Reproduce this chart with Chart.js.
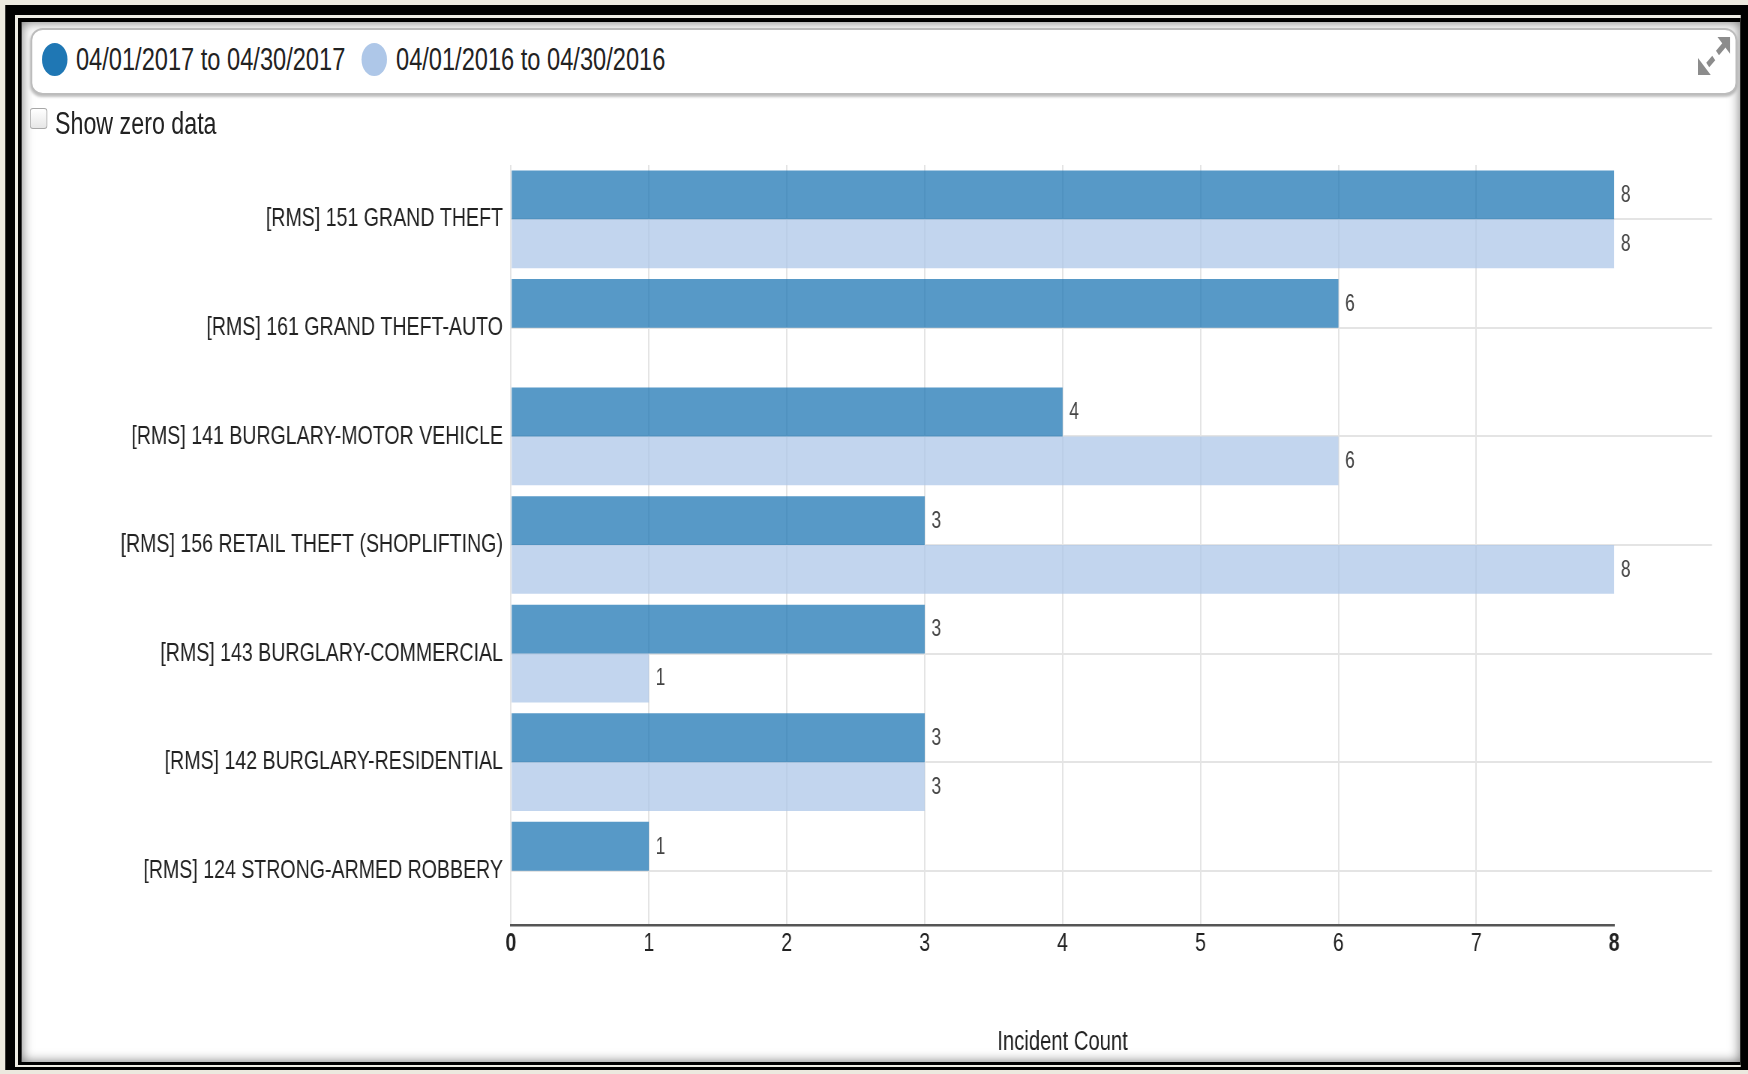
<!DOCTYPE html>
<html>
<head>
<meta charset="utf-8">
<script src="https://cdn.jsdelivr.net/npm/chart.js@4.4.1/dist/chart.umd.min.js"></script>
<style>
    html, body { margin: 0; padding: 0; width: 1748px; height: 1074px; overflow: hidden; background: #ece9df; }
    body { font-family: "Liberation Sans", Arial, sans-serif; color: #222; }
    /* the source picture is horizontally squeezed, so the page is laid out wide and scaled in x */
    #root { position: absolute; left: 0; top: 0; width: 2331px; height: 1074px; transform: scaleX(0.75); transform-origin: 0 0; }
    .abs { position: absolute; }
    #frame { left: 6.7px; top: 5px; width: 2324px; height: 1065px; background: #000; }
    #frameLine { left: 20px; top: 15px; width: 2301px; height: 1052px; background: #eeece4; }
    #frameIn { left: 24px; top: 18px; width: 2297px; height: 1047px; background: #000; }
    #panel { left: 29.3px; top: 22px; width: 2290.7px; height: 1040px; background: #fff; box-shadow: inset 0 0 14px rgba(0, 0, 0, 0.55); }
    #legendBox { left: 41.3px; top: 28px; width: 2271px; height: 63px; border: 2px solid #bcbcbc; border-radius: 16px / 12px; background: #fff; box-shadow: 0 2px 3px rgba(0, 0, 0, 0.25); }
    .dot { width: 34px; height: 33px; border-radius: 50%; top: 43px; }
    .legText { font-size: 31.5px; line-height: 31.5px; top: 44px; white-space: nowrap; color: #222; }
    #check { left: 40px; top: 108px; width: 21px; height: 19px; border: 1.5px solid #a8a8a8; border-radius: 4px / 3px; background: linear-gradient(#ffffff, #e6e6e6); }
    #zeroText { left: 73.3px; top: 108px; font-size: 31px; line-height: 31px; white-space: nowrap; color: #222; }
    #expand { left: 2264px; top: 37px; width: 43px; height: 38px; }
    #chart { position: absolute; left: 0; top: 0; }
</style>
</head>
<body>
<div id="root">
    <div id="frame" class="abs"></div>
    <div id="frameLine" class="abs"></div>
    <div id="frameIn" class="abs"></div>
    <div id="panel" class="abs"></div>
    <div id="legendBox" class="abs"></div>
    <div class="abs dot" style="left:55.7px;background:#1f77b4"></div>
    <div class="abs legText" style="left:101.3px">04/01/2017 to 04/30/2017</div>
    <div class="abs dot" style="left:482px;background:#aec7e8"></div>
    <div class="abs legText" style="left:528px">04/01/2016 to 04/30/2016</div>
    <svg id="expand" class="abs" viewBox="0 0 43 38" preserveAspectRatio="none">
        <g fill="#8c8c8c" stroke="#8c8c8c" stroke-width="6" stroke-linecap="butt">
            <polygon points="43,0 43,17 26,0" stroke="none"/>
            <line x1="35" y1="8" x2="26" y2="16"/>
            <line x1="21" y1="21" x2="13" y2="28"/>
            <polygon points="0,38 0,21 17,38" stroke="none"/>
        </g>
    </svg>
    <div id="check" class="abs"></div>
    <div id="zeroText" class="abs">Show zero data</div>
    <canvas id="chart" width="2331" height="1074"></canvas>
</div>
<script>
// Данные
const categories = [
    '[RMS] 151 GRAND THEFT',
    '[RMS] 161 GRAND THEFT-AUTO',
    '[RMS] 141 BURGLARY-MOTOR VEHICLE',
    '[RMS] 156 RETAIL THEFT (SHOPLIFTING)',
    '[RMS] 143 BURGLARY-COMMERCIAL',
    '[RMS] 142 BURGLARY-RESIDENTIAL',
    '[RMS] 124 STRONG-ARMED ROBBERY'
];
const seriesNames = ['04/01/2017 to 04/30/2017', '04/01/2016 to 04/30/2016'];
const counts2017 = [8, 6, 4, 3, 3, 3, 1];
const counts2016 = [8, null, 6, 8, 1, 3, null];
const xTickValues = [0, 1, 2, 3, 4, 5, 6, 7, 8];

const FONT = '"Liberation Sans", Arial, sans-serif';

// горизонтальные линии через центр категорий, чуть длиннее оси
const rowLines = {
    id: 'rowLines',
    beforeDatasetsDraw(chart) {
        const { ctx, chartArea, scales: { y } } = chart;
        ctx.save();
        ctx.strokeStyle = '#e4e4e4';
        ctx.lineWidth = 2;
        categories.forEach((c, i) => {
            const py = Math.round(y.getPixelForValue(i));
            ctx.beginPath();
            ctx.moveTo(chartArea.left, py);
            ctx.lineTo(chartArea.right + 130.4, py);
            ctx.stroke();
        });
        ctx.restore();
    }
};

// подписи значений справа от столбцов
const valueLabels = {
    id: 'valueLabels',
    afterDatasetsDraw(chart) {
        const { ctx } = chart;
        ctx.save();
        ctx.font = '23px ' + FONT;
        ctx.fillStyle = '#444';
        ctx.textAlign = 'left';
        ctx.textBaseline = 'middle';
        chart.data.datasets.forEach((ds, di) => {
            chart.getDatasetMeta(di).data.forEach((bar, i) => {
                if (ds.data[i] == null) return;
                ctx.fillText(String(ds.data[i]), bar.x + 9, bar.y + 1);
            });
        });
        ctx.restore();
    }
};

const ctx = document.getElementById('chart').getContext('2d');
new Chart(ctx, {
    type: 'bar',
    data: {
        labels: categories,
        datasets: [{
            label: seriesNames[0],
            data: counts2017,
            backgroundColor: 'rgba(31, 119, 180, 0.75)',
            borderWidth: 0,
            categoryPercentage: 0.9,
            barPercentage: 1.0
        }, {
            label: seriesNames[1],
            data: counts2016,
            backgroundColor: 'rgba(174, 199, 232, 0.75)',
            borderWidth: 0,
            categoryPercentage: 0.9,
            barPercentage: 1.0
        }]
    },
    options: {
        indexAxis: 'y',
        responsive: false,
        animation: false,
        layout: { padding: { left: 0, right: 178.7, top: 165, bottom: 15.4 } },
        plugins: {
            legend: { display: false },
            tooltip: { enabled: false }
        },
        scales: {
            x: {
                min: xTickValues[0],
                max: xTickValues[xTickValues.length - 1],
                afterBuildTicks: scale => { scale.ticks = xTickValues.map(v => ({ value: v })); },
                ticks: {
                    padding: 3,
                    color: '#222',
                    font: c => ({
                        family: FONT,
                        size: 26,
                        weight: (c.tick && (c.tick.value === 0 || c.tick.value === 8)) ? 'bold' : 'normal'
                    })
                },
                grid: {
                    color: c => (c.tick && c.tick.value === 8) ? 'rgba(0,0,0,0)' : '#e4e4e4',
                    lineWidth: 2,
                    drawTicks: false
                },
                border: { color: '#555', width: 2.5 },
                title: {
                    display: true,
                    text: 'Incident Count',
                    color: '#222',
                    font: { family: FONT, size: 27 },
                    padding: { top: 0, bottom: 0 }
                },
                afterFit: scale => { scale.height = 133.6; }
            },
            y: {
                ticks: {
                    padding: 10.7,
                    color: '#222',
                    font: { family: FONT, size: 26.1 }
                },
                grid: { display: false, drawTicks: false },
                border: { display: false },
                afterFit: scale => { scale.width = 681.3; }
            }
        }
    },
    plugins: [rowLines, valueLabels]
});
</script>
</body>
</html>
